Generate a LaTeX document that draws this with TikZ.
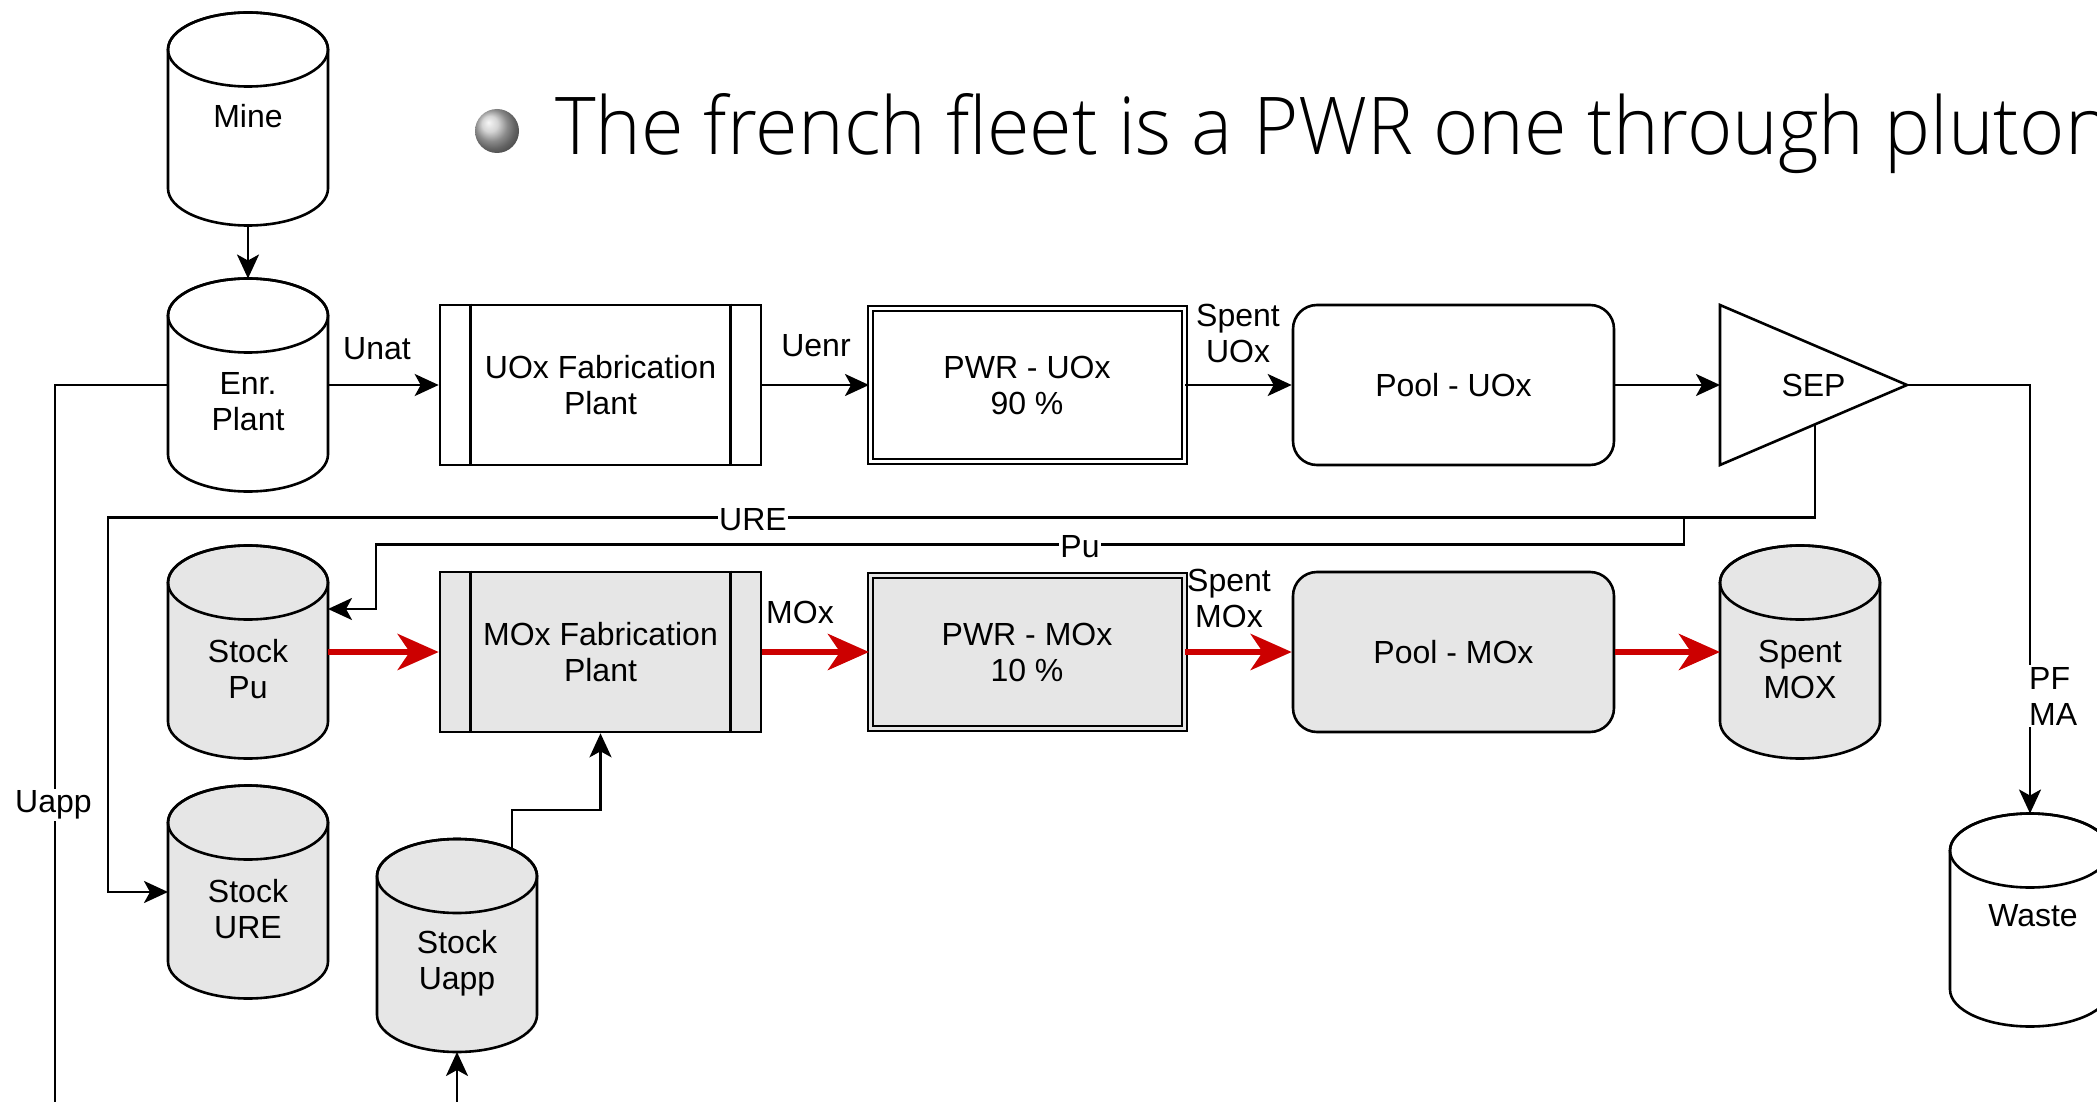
\documentclass[tikz,border=0pt]{standalone}
\usepackage{graphicx}
\usepackage{fontspec}
\setmainfont{Liberation Sans}
\newfontfamily\titlefont{Open Sans Light}
\usetikzlibrary{arrows.meta,calc}
\definecolor{boxgray}{HTML}{E6E6E6}
\definecolor{flowred}{HTML}{CC0000}
\tikzset{
  ln/.style={line width=2.6pt, draw=black},
  arr/.style={ln, -{Stealth[length=24pt,width=22pt,inset=6pt]}},
  redarr/.style={line width=6.5pt, draw=flowred, -{Stealth[length=41pt,width=36pt,inset=12pt]}},
  txt/.style={font=\fontsize{32}{36}\selectfont, align=center, inner sep=2pt},
  elab/.style={txt, inner sep=1pt},
  wlab/.style={txt, fill=white, inner sep=2pt},
  cylbox/.style={minimum width=160pt, minimum height=213pt, inner sep=0pt, outer sep=0pt},
  procbox/.style={ln, minimum width=321pt, minimum height=160pt, txt},
  dblbox/.style={draw=black, line width=2pt, double=white, double distance=3pt, minimum width=314pt, minimum height=153pt, txt},
  poolbox/.style={ln, rounded corners=24pt, minimum width=321pt, minimum height=160pt, txt},
}
\newcommand\mycyl[4]{%
  \node[cylbox] (#1) at (#2,#3) {};
  \filldraw[ln, fill=#4] ({#2-80},{#3-69.5}) -- ({#2-80},{#3+69.5})
    arc[start angle=180, end angle=0, x radius=80, y radius=37]
    -- ({#2+80},{#3-69.5})
    arc[start angle=0, end angle=-180, x radius=80, y radius=37] -- cycle;
  \draw[ln] (#2,{#3-69.5}) ellipse[x radius=80, y radius=37];
}
\begin{document}
\begin{tikzpicture}[x=1pt,y=-1pt]
\clip (0,0) rectangle (2097,1102);
\fill[white] (0,0) rectangle (2097,1102);

% title
\node[circle, minimum size=44pt, inner sep=0pt, ball color=gray!45] (bullet) at (497,131) {};
\node[anchor=base west, inner sep=0pt] (title) at (555,155)
  {\resizebox{1555pt}{61pt}{\titlefont The french fleet is a PWR one through pluton}};

% row 1
\mycyl{mine}{248}{119}{white}
\node[txt] (mine-t) at (248,116) {Mine};
\mycyl{enr}{248}{385}{white}
\node[txt] (enr-t) at (248,402) {Enr.\\Plant};
\node[procbox, fill=white] (uoxfab) at (600.5,385) {UOx Fabrication\\Plant};
\draw[ln] ($(uoxfab.north west)+(32,0)$) -- ($(uoxfab.south west)+(32,0)$);
\draw[ln] ($(uoxfab.north east)+(-32,0)$) -- ($(uoxfab.south east)+(-32,0)$);
\node[dblbox, fill=white] (pwruox) at (1027,385) {PWR - UOx\\90 \%};
\node[poolbox, fill=white] (pooluox) at (1453.5,385) {Pool - UOx};
\node[txt, minimum width=187pt, minimum height=160pt, inner sep=0pt, outer sep=0pt] (sep) at (1813.5,385) {SEP};
\draw[ln, line join=miter] (sep.north west) -- (sep.east) -- (sep.south west) -- cycle;

% row 2
\mycyl{stockpu}{248}{652}{boxgray}
\node[txt] (stockpu-t) at (248,669) {Stock\\Pu};
\node[procbox, fill=boxgray] (moxfab) at (600.5,652) {MOx Fabrication\\Plant};
\draw[ln] ($(moxfab.north west)+(32,0)$) -- ($(moxfab.south west)+(32,0)$);
\draw[ln] ($(moxfab.north east)+(-32,0)$) -- ($(moxfab.south east)+(-32,0)$);
\node[dblbox, fill=boxgray, double=boxgray] (pwrmox) at (1027,652) {PWR - MOx\\10 \%};
\node[poolbox, fill=boxgray] (poolmox) at (1453.5,652) {Pool - MOx};
\mycyl{spentmox}{1800}{652}{boxgray}
\node[txt] (spentmox-t) at (1800,669) {Spent\\MOX};

% stocks
\mycyl{stockure}{248}{892}{boxgray}
\node[txt] (stockure-t) at (248,909) {Stock\\URE};
\mycyl{stockuapp}{457}{945.5}{boxgray}
\node[txt] (stockuapp-t) at (457,963) {Stock\\Uapp};
\mycyl{waste}{2030}{920}{white}
\node[txt] (waste-t) at (2033,916) {Waste};

% coordinates
\coordinate (sepb) at (1815,424.4);
\coordinate (uappout) at (512,848.6);

% black connectors
\draw[arr] (mine.south) -- (enr.north);
\draw[arr] (enr.east) -- (uoxfab.west);
\node[elab] (l-unat) at (377,349) {Unat};
\draw[arr] (uoxfab.east) -- (pwruox.west);
\node[elab] (l-uenr) at (816,346) {Uenr};
\draw[arr] (pwruox.east) -- (pooluox.west);
\node[elab] (l-spuox) at (1238,333) {Spent\\UOx};
\draw[arr] (pooluox.east) -- (sep.west);

\draw[arr] (sep.east) -| (waste.north);
\node[wlab, anchor=west, align=left] (l-pfma) at (2027,696) {PF\\MA};

\draw[arr] (enr.west) -| (55,1140) -| (stockuapp.south);
\node[wlab] (l-uapp) at (53.5,805) {Uapp};

\draw[arr] (uappout) -- ++(0,-38.6) -| (moxfab.south);

\draw[arr] (sepb) |- (108,517.5) |- (stockure.west);
\node[wlab, inner sep=1pt] (l-ure) at (753,520) {URE};

\draw[arr] (sepb) |- (1684,517.5) |- (376,544.3) |- ($(stockpu.east)+(0,-43)$);
\node[wlab, inner sep=1pt] (l-pu) at (1080,547) {Pu};

% red connectors
\draw[redarr] (stockpu.east) -- (moxfab.west);
\draw[redarr] (moxfab.east) -- (pwrmox.west);
\node[elab] (l-mox) at (800,612.5) {MOx};
\draw[redarr] (pwrmox.east) -- (poolmox.west);
\node[elab] (l-spmox) at (1229,598) {Spent\\MOx};
\draw[redarr] (poolmox.east) -- (spentmox.west);
\end{tikzpicture}
\end{document}
